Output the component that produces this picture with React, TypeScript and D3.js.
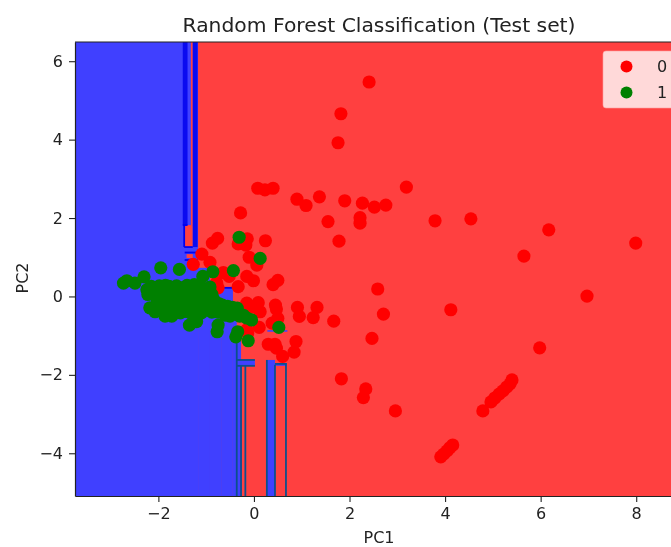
import { useEffect, useRef } from 'react';
import * as d3 from 'd3';

const W = 671, H = 547;
const plot = { left: 75, right: 684, top: 42, bottom: 496 };

const xDomain: [number, number] = [-3.745, 9.0];
const yDomain: [number, number] = [-5.09, 6.49];
const xTickValues = [-2, 0, 2, 4, 6, 8];
const yTickValues = [-4, -2, 0, 2, 4, 6];
const classLabels = ['0', '1'];

// [pc1, pc2]
const class0 = [
  [2.41, 5.47], [1.82, 4.66], [1.76, 3.92], [0.08, 2.76], [0.23, 2.72], [0.40, 2.76], [0.90, 2.48], [1.09, 2.32],
  [1.37, 2.54], [1.90, 2.44], [2.27, 2.38], [2.52, 2.28], [2.76, 2.33], [3.19, 2.79], [1.55, 1.91], [2.22, 2.01],
  [2.22, 1.87], [1.78, 1.41], [-0.28, 2.13], [-0.14, 1.47], [-0.33, 1.34], [-0.17, 1.31], [0.24, 1.42], [-0.10, 1.00],
  [0.06, 0.80], [-0.15, 0.51], [-0.01, 0.40], [-0.33, 0.25], [0.50, 0.41], [0.40, 0.30], [2.59, 0.19], [3.79, 1.93],
  [4.54, 1.98], [5.65, 1.03], [6.17, 1.70], [6.97, 0.01], [7.99, 1.36], [5.98, -1.31], [-0.76, 1.48], [-0.87, 1.36],
  [-1.09, 1.08], [-1.27, 0.82], [-0.92, 0.87], [-0.64, 0.61], [-0.52, 0.51], [-0.78, 0.35], [-0.75, 0.22], [0.91, -0.28],
  [1.32, -0.28], [0.95, -0.51], [1.24, -0.54], [1.67, -0.63], [2.71, -0.45], [2.47, -1.07], [4.12, -0.34], [0.45, -0.22],
  [0.47, -0.32], [0.50, -0.56], [0.38, -0.68], [0.11, -0.79], [0.09, -0.16], [0.13, -0.39], [-0.15, -0.17], [-0.06, -0.27],
  [-0.15, -0.85], [-0.13, -0.93], [0.88, -1.15], [0.84, -1.42], [0.30, -1.22], [0.44, -1.22], [0.47, -1.32], [0.60, -1.53],
  [1.83, -2.10], [2.34, -2.36], [2.29, -2.58], [2.96, -2.92], [4.79, -2.92], [4.96, -2.69], [5.04, -2.59], [5.13, -2.49],
  [5.21, -2.41], [5.29, -2.31], [5.36, -2.23], [5.40, -2.13], [3.91, -4.09], [3.97, -4.02], [4.04, -3.94], [4.10, -3.86],
  [4.16, -3.79],
];

const class1 = [
  [-0.31, 1.51], [0.13, 0.97], [-0.43, 0.66], [-0.86, 0.63], [-1.07, 0.51], [-1.56, 0.69], [-1.95, 0.73], [-0.05, -0.60],
  [0.52, -0.79], [-0.12, -1.13], [-0.38, -1.03], [-0.34, -0.90], [-0.75, -0.73], [-0.77, -0.90], [-1.35, -0.73], [-1.20, -0.64],
  [-2.73, 0.34], [-2.66, 0.40], [-2.49, 0.34], [-2.30, 0.50], [-2.24, 0.17], [-2.18, -0.29], [-2.07, -0.39], [-1.86, -0.50],
  [-1.72, -0.50], [-2.22, 0.05], [-2.15, 0.26], [-2.08, 0.18], [-2.02, -0.12], [-1.98, 0.27], [-1.93, 0.10], [-1.90, -0.30],
  [-1.85, 0.28], [-1.80, -0.05], [-1.76, 0.24], [-1.72, 0.15], [-1.70, -0.38], [-1.65, -0.18], [-1.62, 0.27], [-1.58, 0.02],
  [-1.54, -0.42], [-1.50, 0.22], [-1.47, -0.26], [-1.42, 0.08], [-1.40, 0.28], [-1.36, -0.10], [-1.33, -0.42], [-1.30, 0.26],
  [-1.25, -0.32], [-1.22, 0.05], [-1.18, -0.16], [-1.15, 0.27], [-1.10, -0.42], [-1.05, 0.10], [-1.02, -0.08], [-0.98, -0.28],
  [-0.92, -0.12], [-0.88, -0.40], [-0.82, -0.25], [-0.75, -0.40], [-0.70, -0.32], [-0.62, -0.38], [-0.55, -0.25], [-0.50, -0.50],
  [-0.42, -0.42], [-0.35, -0.30], [-0.30, -0.50], [-0.22, -0.48], [-0.15, -0.55], [-0.95, 0.18], [-1.82, -0.38], [-1.12, 0.25],
  [-1.96, -0.22], [-1.88, 0.02], [-1.74, 0.08], [-1.68, -0.28], [-1.60, 0.14], [-1.56, -0.12], [-1.48, -0.02], [-1.44, -0.38],
  [-1.34, 0.14], [-1.30, -0.20], [-1.26, -0.02], [-1.16, 0.12], [-1.12, -0.24], [-1.06, -0.34], [-0.96, 0.02], [-0.88, 0.05],
  [-0.84, -0.08], [-0.74, -0.18], [-0.66, -0.22], [-0.60, -0.48], [-0.45, -0.28], [-0.92, 0.24], [-1.25, 0.30], [-1.78, 0.26],
];

// decision regions as [x0, x1, y0, y1], painted in order over the red background
const blueCells = [
  [-3.745, -1.17, -5.09, 6.49],
  [-1.17, -0.92, -5.09, 0.73],
  [-0.92, -0.67, -5.09, 0.42],
  [-0.67, -0.44, -5.09, 0.22],
  [-0.44, -0.36, -5.09, -0.14],
  [-0.36, -0.27, -5.09, -1.11],
  [-0.36, 0.02, -1.77, -1.62],
  [0.27, 0.44, -5.09, -1.62],
  [0.44, 0.69, -1.77, -1.70],
  [0.28, 0.70, -0.90, -0.86],
  [0.10, 0.16, 1.84, 1.80],
];
const redCells = [
  [-1.46, -1.28, 1.26, 1.82],
  [-1.32, -1.28, 1.82, 6.49],
  [-1.41, -1.28, 0.98, 1.08],
];
const darkCells = [
  [-1.49, -1.39, 1.82, 6.49],
  [-1.28, -1.18, 1.26, 6.49],
];
const edgeLines = [
  [-1.46, -1.46, 1.26, 1.82],
  [-1.46, -1.28, 1.26, 1.26],
  [-1.49, -1.39, 1.82, 1.82],
  [-1.45, -1.18, 0.93, 0.93],
  [-1.45, -1.18, 1.12, 1.12],
  [-0.36, -0.36, -5.09, -1.11],
  [-0.27, -0.27, -5.09, -1.77],
  [-0.18, -0.18, -5.09, -1.77],
  [-0.36, 0.02, -1.62, -1.62],
  [-0.36, 0.02, -1.77, -1.77],
  [0.27, 0.27, -5.09, -1.62],
  [0.44, 0.44, -5.09, -1.74],
  [0.67, 0.67, -5.09, -1.70],
  [0.44, 0.67, -1.72, -1.72],
  [-0.65, -0.44, 0.22, 0.22],
];

function Scatter() {
  const ref = useRef<SVGSVGElement>(null);

  useEffect(() => {
    if (!ref.current) return;
    const svg = d3.select(ref.current);
    svg.selectAll('*').remove();

    const x = d3.scaleLinear().domain(xDomain).range([plot.left, plot.right]);
    const y = d3.scaleLinear().domain(yDomain).range([plot.bottom, plot.top]);

    svg.append('clipPath').attr('id', 'plot-clip').append('rect')
      .attr('x', plot.left).attr('y', plot.top)
      .attr('width', plot.right - plot.left).attr('height', plot.bottom - plot.top);

    const g = svg.append('g').attr('clip-path', 'url(#plot-clip)');

    /* ── decision regions ── */
    g.append('rect')
      .attr('x', plot.left).attr('y', plot.top)
      .attr('width', plot.right - plot.left).attr('height', plot.bottom - plot.top)
      .attr('fill', '#ff4040');

    const cells = (rows: number[][], fill: string) => {
      g.append('g').selectAll('rect').data(rows).join('rect')
        .attr('x', d => x(d[0]))
        .attr('y', d => y(d[3]))
        .attr('width', d => x(d[1]) - x(d[0]))
        .attr('height', d => y(d[2]) - y(d[3]))
        .attr('fill', fill);
    };
    cells(blueCells, '#4040ff');
    cells(redCells, '#ff4040');
    cells(darkCells, '#0a0af0');

    g.append('g').selectAll('line').data(edgeLines).join('line')
      .attr('x1', d => x(d[0])).attr('x2', d => x(d[1]))
      .attr('y1', d => y(d[2])).attr('y2', d => y(d[3]))
      .attr('stroke', d => (d[3] > 0 ? '#0000f0' : '#0c4f8c'))
      .attr('stroke-width', 1.8);

    /* ── points ── */
    g.append('g').selectAll('circle').data(class0).join('circle')
      .attr('cx', d => x(d[0])).attr('cy', d => y(d[1])).attr('r', 6.6).attr('fill', '#ff0000');
    g.append('g').selectAll('circle').data(class1).join('circle')
      .attr('cx', d => x(d[0])).attr('cy', d => y(d[1])).attr('r', 6.6).attr('fill', '#008000');

    /* ── axes ── */
    const fmt = (d: d3.NumberValue) => String(d).replace('-', '\u2212');
    const xAxis = svg.append('g').attr('transform', `translate(0,${plot.bottom})`)
      .call(d3.axisBottom(x).tickValues(xTickValues).tickFormat(fmt).tickSize(6).tickSizeOuter(0).tickPadding(6));
    const yAxis = svg.append('g').attr('transform', `translate(${plot.left},0)`)
      .call(d3.axisLeft(y).tickValues(yTickValues).tickFormat(fmt).tickSize(6).tickSizeOuter(0).tickPadding(6));
    [xAxis, yAxis].forEach(a => {
      a.selectAll('text').attr('font-family', 'DejaVu Sans').attr('font-size', 16).attr('fill', '#222');
      a.selectAll('line').attr('stroke', '#222').attr('stroke-width', 1.1);
      a.select('.domain').attr('stroke', '#222').attr('stroke-width', 1.2);
    });

    svg.append('line')
      .attr('x1', plot.left).attr('x2', W).attr('y1', plot.top).attr('y2', plot.top)
      .attr('stroke', '#222').attr('stroke-width', 1.2);

    /* ── legend ── */
    const legend = svg.append('g');
    legend.append('rect')
      .attr('x', 603).attr('y', 51).attr('width', 90).attr('height', 57).attr('rx', 3)
      .attr('fill', '#ffd9d9').attr('stroke', '#ff9f9f').attr('stroke-width', 0.6);
    classLabels.forEach((label, i) => {
      const cy = 66.5 + i * 26;
      legend.append('circle').attr('cx', 626.5).attr('cy', cy).attr('r', 6)
        .attr('fill', i === 0 ? '#ff0000' : '#008000');
      legend.append('text').attr('x', 657).attr('y', cy + 5.5)
        .attr('font-family', 'DejaVu Sans').attr('font-size', 16).attr('fill', '#222')
        .text(label);
    });

    /* ── titles ── */
    const label = (tx: number, ty: number, text: string, size: number, rotate = 0) =>
      svg.append('text')
        .attr('transform', `translate(${tx},${ty}) rotate(${rotate})`)
        .attr('text-anchor', 'middle')
        .attr('font-family', 'DejaVu Sans').attr('font-size', size).attr('fill', '#222')
        .text(text);
    label(379, 32, 'Random Forest Classification (Test set)', 20.3);
    label(379, 543, 'PC1', 16);
    label(28, 278, 'PC2', 16, -90);
  }, []);

  return <svg ref={ref} width={W} height={H} style={{ display: 'block', filter: 'blur(0.6px)' }} />;
}

export default function App() {
  return (
    <div style={{ position: 'absolute', left: 0, top: 0, width: W, height: H, overflow: 'hidden', background: '#fff' }}>
      <Scatter />
    </div>
  );
}
